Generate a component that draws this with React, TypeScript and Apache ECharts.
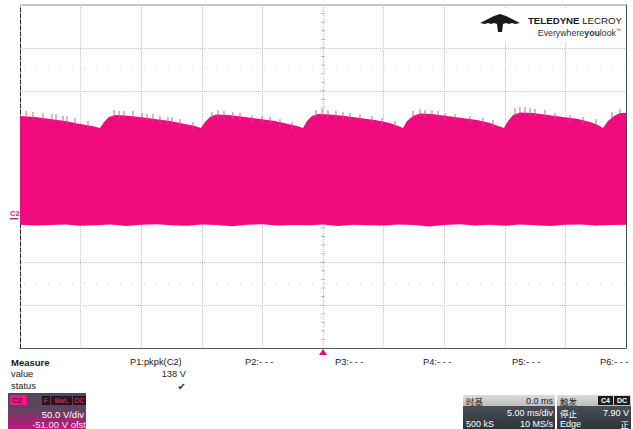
import React, { useEffect, useRef } from "react";
import * as echarts from "echarts";

const SANS = "'Liberation Sans', Arial, Helvetica, sans-serif";
const CJK = "'Noto Sans CJK SC', 'Liberation Sans', sans-serif";

// Horizontal: 5 ms/div, 10 divisions
const TIME_START = 0;
const TIME_END = 50;
const TIME_PER_DIV = 5;
const TRIGGER_T = 25;
// Vertical: 50 V/div, -51 V offset, 8 divisions
const VOLTS_PER_DIV = 50;
const OFFSET_V = -51;
const V_CENTER = -OFFSET_V;
const V_MIN = V_CENTER - 4 * VOLTS_PER_DIV;
const V_MAX = V_CENTER + 4 * VOLTS_PER_DIV;

const TRACE_COLOR = "#ef0a7d";

// Upper envelope of the C2 trace (ms, V)
const UPPER_T = [0, 1.24, 2.48, 3.71, 4.95, 5.94, 6.6, 6.93, 7.34, 7.84, 8.66, 9.9, 11.14, 12.38, 13.61, 14.44, 14.93, 15.26, 15.68, 16.17, 17.16, 18.56, 19.8, 21.04, 22.11, 22.85, 23.35, 23.68, 24.09, 24.59, 25.58, 26.82, 28.05, 29.29, 30.53, 31.19, 31.6, 31.93, 32.43, 33.0, 33.99, 35.23, 36.47, 37.71, 38.78, 39.44, 39.93, 40.26, 40.68, 41.25, 42.33, 43.56, 44.8, 46.04, 47.03, 47.69, 48.1, 48.51, 49.01, 49.5, 50.0];
const UPPER_V = [121.5, 120.4, 118.0, 115.7, 112.2, 109.9, 107.6, 114.5, 120.4, 122.7, 122.1, 120.4, 118.0, 115.7, 112.2, 109.9, 107.6, 114.5, 120.4, 123.3, 122.7, 120.4, 118.0, 115.7, 112.2, 109.9, 107.6, 115.7, 121.5, 123.9, 123.3, 121.5, 119.2, 116.9, 113.4, 109.9, 107.6, 115.7, 121.5, 124.5, 123.9, 121.5, 119.2, 116.9, 113.4, 109.9, 107.6, 115.7, 122.7, 125.6, 125.0, 122.7, 120.4, 118.0, 114.5, 111.1, 107.6, 115.7, 121.5, 125.0, 125.0];

// Lower envelope (ms, V)
const LOWER_T = [0, 1.25, 2.5, 3.75, 5, 6.25, 7.5, 8.75, 10, 11.25, 12.5, 13.75, 15, 16.25, 17.5, 18.75, 20, 21.25, 22.5, 23.75, 25, 26.25, 27.5, 28.75, 30, 31.25, 32.5, 33.75, 35, 36.25, 37.5, 38.75, 40, 41.25, 42.5, 43.75, 45, 46.25, 47.5, 48.75, 50];
const LOWER_V = [-5.2, -6.0, -5.5, -4.9, -6.4, -5.8, -5.1, -6.7, -5.4, -4.8, -5.9, -6.3, -5.0, -5.6, -7.0, -5.3, -4.7, -6.1, -5.5, -5.9, -4.9, -6.6, -5.2, -5.8, -6.2, -5.0, -5.5, -7.2, -5.7, -4.8, -6.0, -5.4, -6.5, -5.1, -5.8, -6.8, -5.3, -4.9, -6.1, -5.6, -5.2];

// Narrow glitches standing above the upper envelope (ms, V)
const SPIKE_T = [0.5, 1.07, 1.9, 2.64, 2.97, 3.55, 3.88, 4.54, 5.61, 7.76, 8.17, 8.58, 9.32, 10.07, 10.48, 10.97, 11.55, 12.21, 12.54, 13.2, 14.27, 15.84, 16.34, 16.83, 17.57, 18.15, 19.14, 19.97, 20.63, 21.45, 22.44, 24.42, 24.92, 25.41, 26.07, 26.65, 27.23, 28.05, 29.04, 29.87, 30.94, 32.43, 33.0, 33.42, 33.99, 34.49, 35.07, 35.89, 37.13, 38.2, 39.03, 40.84, 41.25, 41.67, 42.08, 42.49, 43.32, 44.14, 45.38, 46.45, 47.52, 48.84, 49.5];
const SPIKE_V = [127.4, 126.2, 125.1, 123.9, 123.9, 121.5, 121.5, 119.2, 115.7, 128.5, 127.4, 127.4, 127.4, 125.1, 123.9, 123.9, 121.5, 120.4, 120.4, 118.0, 114.5, 126.2, 128.5, 127.4, 126.2, 125.1, 122.7, 121.5, 120.4, 118.0, 114.5, 128.5, 129.7, 128.5, 127.4, 126.2, 125.1, 123.9, 121.5, 119.2, 115.7, 127.4, 129.7, 128.5, 128.5, 127.4, 125.1, 123.9, 121.5, 119.2, 116.9, 130.9, 132.0, 132.0, 130.9, 129.7, 128.5, 125.1, 122.7, 120.4, 118.0, 126.2, 129.7];

// Measurement panel
const MEASURE_ROWS = ["Measure", "value", "status"];
const PARAM_LABELS = ["P1:pkpk(C2)", "P2:- - -", "P3:- - -", "P4:- - -", "P5:- - -", "P6:- - -"];
const P1_VALUE = "138 V";
const CH_SCALE = "50.0 V/div";
const CH_OFFSET = "-51.00 V ofst";
const TB_DELAY = "0.0 ms";
const TB_SCALE = "5.00 ms/div";
const TB_POINTS = "500 kS";
const TB_RATE = "10 MS/s";
const TRIG_MODE = "停止";
const TRIG_LEVEL = "7.90 V";
const TRIG_TYPE = "Edge";
const TRIG_SLOPE = "正";

function txt(text: string, x: number, y: number, o: any = {}) {
  const align = o.align || "left";
  return {
    type: "text",
    x,
    y,
    silent: true,
    z: 20,
    style: {
      text,
      fill: o.fill || "#1a1a1a",
      font: o.font || `9.3px ${SANS}`,
      lineHeight: o.lineHeight || 10,
      align,
      textAlign: align,
      verticalAlign: "middle",
      textVerticalAlign: "middle",
      rich: o.rich,
    },
  };
}

function rect(x: number, y: number, w: number, h: number, fill: any, z = 15) {
  return { type: "rect", silent: true, z, shape: { x, y, width: w, height: h }, style: { fill } };
}

function vGrad(stops: [number, string][]) {
  return {
    type: "linear",
    x: 0,
    y: 0,
    x2: 0,
    y2: 1,
    colorStops: stops.map(([offset, color]) => ({ offset, color })),
  };
}

export default function App() {
  const ref = useRef<HTMLDivElement>(null);

  useEffect(() => {
    if (!ref.current) return;
    const chart = echarts.init(ref.current, null, { renderer: "svg" });

    const renderExtras = (params: any, api: any) => {
      const children: any[] = [];
      // tick marks along the centre graticule lines (1/5 div)
      for (let v = V_MIN + VOLTS_PER_DIV / 5; v < V_MAX; v += VOLTS_PER_DIV / 5) {
        const p = api.coord([TRIGGER_T, v]);
        children.push({
          type: "line",
          shape: { x1: p[0] - 2, y1: p[1], x2: p[0] + 2, y2: p[1] },
          style: { stroke: "#b8b8b8", lineWidth: 1 },
        });
      }
      for (let t = TIME_START + 1; t < TIME_END; t += 1) {
        const p = api.coord([t, V_CENTER]);
        children.push({
          type: "line",
          shape: { x1: p[0], y1: p[1] - 2, x2: p[0], y2: p[1] + 2 },
          style: { stroke: "#b8b8b8", lineWidth: 1 },
        });
      }
      // faint dotted rows
      [V_MAX - 1.5 * VOLTS_PER_DIV, V_MIN + 1.5 * VOLTS_PER_DIV].forEach((v) => {
        const a = api.coord([TIME_START, v]);
        const b = api.coord([TIME_END, v]);
        children.push({
          type: "line",
          shape: { x1: a[0] + 4, y1: a[1], x2: b[0], y2: b[1] },
          style: { stroke: "#cccccc", lineWidth: 1, lineDash: [1, 11] },
        });
      });
      // top border
      const tl = api.coord([TIME_START, V_MAX]);
      const tr = api.coord([TIME_END, V_MAX]);
      children.push({
        type: "line",
        shape: { x1: tl[0], y1: tl[1], x2: tr[0], y2: tr[1] },
        style: { stroke: "#c8c8c8", lineWidth: 2 },
      });
      // trigger position marker
      const tp = api.coord([TRIGGER_T, V_MIN]);
      children.push({
        type: "polygon",
        shape: { points: [[tp[0], tp[1] + 1], [tp[0] - 4, tp[1] + 7], [tp[0] + 4, tp[1] + 7]] },
        style: { fill: "#e0107a" },
      });
      // channel ground marker
      const g = api.coord([TIME_START, 0]);
      children.push({
        type: "text",
        style: {
          text: "C2",
          x: g[0] - 10,
          y: g[1] - 7,
          fill: "#c2287a",
          font: `bold 7.5px ${SANS}`,
          align: "left",
          verticalAlign: "middle",
        },
      });
      children.push({
        type: "line",
        shape: { x1: g[0] - 10, y1: g[1] - 1.5, x2: g[0] - 2, y2: g[1] - 1.5 },
        style: { stroke: "#c2287a", lineWidth: 1.5 },
      });
      return { type: "group", children };
    };

    const renderTrace = (params: any, api: any) => {
      if (params.dataIndex !== 0) return null;
      const pts: number[][] = [];
      UPPER_T.forEach((t, i) => pts.push(api.coord([t, UPPER_V[i]])));
      for (let i = LOWER_T.length - 1; i >= 0; i--) pts.push(api.coord([LOWER_T[i], LOWER_V[i]]));
      const children: any[] = [
        { type: "polygon", shape: { points: pts }, style: { fill: TRACE_COLOR } },
      ];
      SPIKE_T.forEach((t, i) => {
        const top = api.coord([t, SPIKE_V[i]]);
        const base = api.coord([t, SPIKE_V[i] - 9]);
        children.push({
          type: "line",
          shape: { x1: top[0], y1: top[1], x2: base[0], y2: base[1] },
          style: { stroke: "#cf4b8f", lineWidth: 0.9 },
        });
      });
      return { type: "group", children };
    };

    const graphic: any[] = [];
    // logo block
    graphic.push(rect(474, 9, 151, 33, "#ffffff", 10));
    graphic.push({
      type: "polygon",
      silent: true,
      z: 20,
      shape: {
        points: [
          [500, 14], [494, 16], [480, 23], [485, 24], [488, 23], [491, 24], [494, 23], [497, 24],
          [498, 32], [502, 32], [503, 24], [506, 23], [509, 24], [512, 23], [515, 24], [520, 23],
          [506, 16],
        ],
      },
      style: { fill: "#1a1a1a" },
    });
    graphic.push(
      txt("{b|TELEDYNE} {r|LECROY}", 622, 20.5, {
        align: "right",
        lineHeight: 12,
        rich: {
          b: { font: `bold 9.7px ${SANS}`, fill: "#1a1a1a" },
          r: { font: `9.7px ${SANS}`, fill: "#1a1a1a" },
        },
      })
    );
    graphic.push(
      txt("{r|Everywhere}{b|you}{r|look}{s|™}", 621, 32.5, {
        align: "right",
        rich: {
          r: { font: `8.8px ${SANS}`, fill: "#333" },
          b: { font: `bold 8.8px ${SANS}`, fill: "#333" },
          s: { font: `5px ${SANS}`, fill: "#333", verticalAlign: "top" },
        },
      })
    );

    // measure table
    graphic.push(txt(MEASURE_ROWS[0], 11, 362, { font: `bold 9.5px ${SANS}` }));
    graphic.push(txt(MEASURE_ROWS[1], 11, 374));
    graphic.push(txt(MEASURE_ROWS[2], 11, 386));
    const pX = [130, 245, 335, 423, 512, 600];
    PARAM_LABELS.forEach((l, i) => graphic.push(txt(l, pX[i], 362)));
    graphic.push(txt(P1_VALUE, 186, 374, { align: "right" }));
    graphic.push(txt("✔", 186, 386, { align: "right", font: `10px 'DejaVu Sans', sans-serif`, fill: "#333" }));

    // channel descriptor
    graphic.push(
      rect(8, 393, 78, 36, vGrad([[0, "#4c4a57"], [0.45, "#5e4460"], [1, "#c8127c"]]))
    );
    graphic.push(rect(10, 395, 17, 10, "#ec1a84", 16));
    graphic.push(txt("C2", 12, 400.5, { font: `bold 8px ${SANS}`, fill: "#8a0046" }));
    const badges: [string, number, number][] = [["F", 42, 8], ["BwL", 51, 21], ["DC", 73, 13]];
    badges.forEach(([t, x, w]) => {
      graphic.push(rect(x, 396, w, 9, "#2a1420", 16));
      graphic.push(txt(t, x + w / 2, 400.5, { align: "center", font: `7px ${SANS}`, fill: "#e8356f", lineHeight: 8 }));
    });
    graphic.push(txt(CH_SCALE, 84, 414, { align: "right", fill: "#ffffff", font: `9.5px ${SANS}` }));
    graphic.push(txt(CH_OFFSET, 86, 424, { align: "right", fill: "#ffe0f0", font: `9.5px ${SANS}` }));

    // timebase box
    const dark = vGrad([[0, "#555b63"], [1, "#2f343b"]]);
    const light = vGrad([[0, "#dcdcdc"], [1, "#bdbdbd"]]);
    const BOX_FONT = `9px ${SANS}`;
    const BOX_CJK = `8.5px ${CJK}`;
    graphic.push(rect(463, 395, 92, 34, dark));
    graphic.push(rect(463, 395, 92, 11, light, 16));
    graphic.push(txt("时基", 466, 400.5, { font: BOX_CJK, fill: "#1a1a1a", lineHeight: 9 }));
    graphic.push(txt(TB_DELAY, 553, 400.5, { align: "right", fill: "#1a1a1a", font: BOX_FONT, lineHeight: 9 }));
    graphic.push(txt(TB_SCALE, 553, 413, { align: "right", fill: "#ffffff", font: BOX_FONT, lineHeight: 9 }));
    graphic.push(txt(TB_POINTS, 466, 423.8, { fill: "#ffffff", font: BOX_FONT, lineHeight: 9 }));
    graphic.push(txt(TB_RATE, 553, 423.8, { align: "right", fill: "#ffffff", font: BOX_FONT, lineHeight: 9 }));

    // trigger box
    graphic.push(rect(557, 395, 74, 34, dark));
    graphic.push(rect(557, 395, 74, 11, light, 16));
    graphic.push(txt("触发", 560, 400.5, { font: BOX_CJK, fill: "#1a1a1a", lineHeight: 9 }));
    graphic.push(rect(598, 396, 15, 9, "#1c1c1c", 17));
    graphic.push(rect(614, 396, 16, 9, "#1c1c1c", 17));
    graphic.push(txt("C4", 605.5, 400.5, { align: "center", font: `bold 7px ${SANS}`, fill: "#ffffff", lineHeight: 8 }));
    graphic.push(txt("DC", 622, 400.5, { align: "center", font: `bold 7px ${SANS}`, fill: "#ffffff", lineHeight: 8 }));
    graphic.push(txt(TRIG_MODE, 560, 413, { font: BOX_CJK, fill: "#ffffff", lineHeight: 9 }));
    graphic.push(txt(TRIG_LEVEL, 629, 413, { align: "right", fill: "#ffffff", font: BOX_FONT, lineHeight: 9 }));
    graphic.push(txt(TRIG_TYPE, 560, 423.8, { fill: "#ffffff", font: BOX_FONT, lineHeight: 9 }));
    graphic.push(txt(TRIG_SLOPE, 629, 423.8, { align: "right", font: BOX_CJK, fill: "#ffffff", lineHeight: 9 }));

    const dotted = { show: true, lineStyle: { color: "#c4c4c4", width: 1, type: [1, 1] as any } };

    chart.setOption({
      animation: false,
      backgroundColor: "#ffffff",
      grid: { left: 20, top: 5, width: 606, height: 343, show: false },
      xAxis: {
        type: "value",
        min: TIME_START,
        max: TIME_END,
        interval: TIME_PER_DIV,
        axisLabel: { show: false },
        axisTick: { show: false },
        axisLine: { show: true, onZero: false, lineStyle: { color: "#5a5a5a", width: 1 } },
        splitLine: dotted,
      },
      yAxis: [
        {
          type: "value",
          min: V_MIN,
          max: V_MAX,
          position: "left",
          axisLabel: { show: false },
          axisTick: { show: false },
          axisLine: { show: true, onZero: false, lineStyle: { color: "#222", width: 1, type: [4, 2] as any } },
          splitLine: { show: false },
        },
        {
          type: "value",
          min: 0,
          max: 8,
          interval: 1,
          position: "right",
          axisLabel: { show: false },
          axisTick: { show: false },
          axisLine: { show: true, onZero: false, lineStyle: { color: "#4a4a4a", width: 1 } },
          splitLine: dotted,
        },
      ],
      series: [
        {
          type: "custom",
          name: "graticule",
          xAxisIndex: 0,
          yAxisIndex: 0,
          clip: false,
          silent: true,
          z: 1,
          data: [[TRIGGER_T, V_CENTER]],
          renderItem: renderExtras,
        },
        {
          type: "custom",
          name: "C2",
          xAxisIndex: 0,
          yAxisIndex: 0,
          clip: true,
          silent: true,
          z: 3,
          data: [[TIME_START, 0]],
          renderItem: renderTrace,
        },
      ],
      graphic,
    });

    return () => chart.dispose();
  }, []);

  return (
    <div
      ref={ref}
      style={{ position: "fixed", left: 0, top: 0, width: 633, height: 429, background: "#fff" }}
    />
  );
}
